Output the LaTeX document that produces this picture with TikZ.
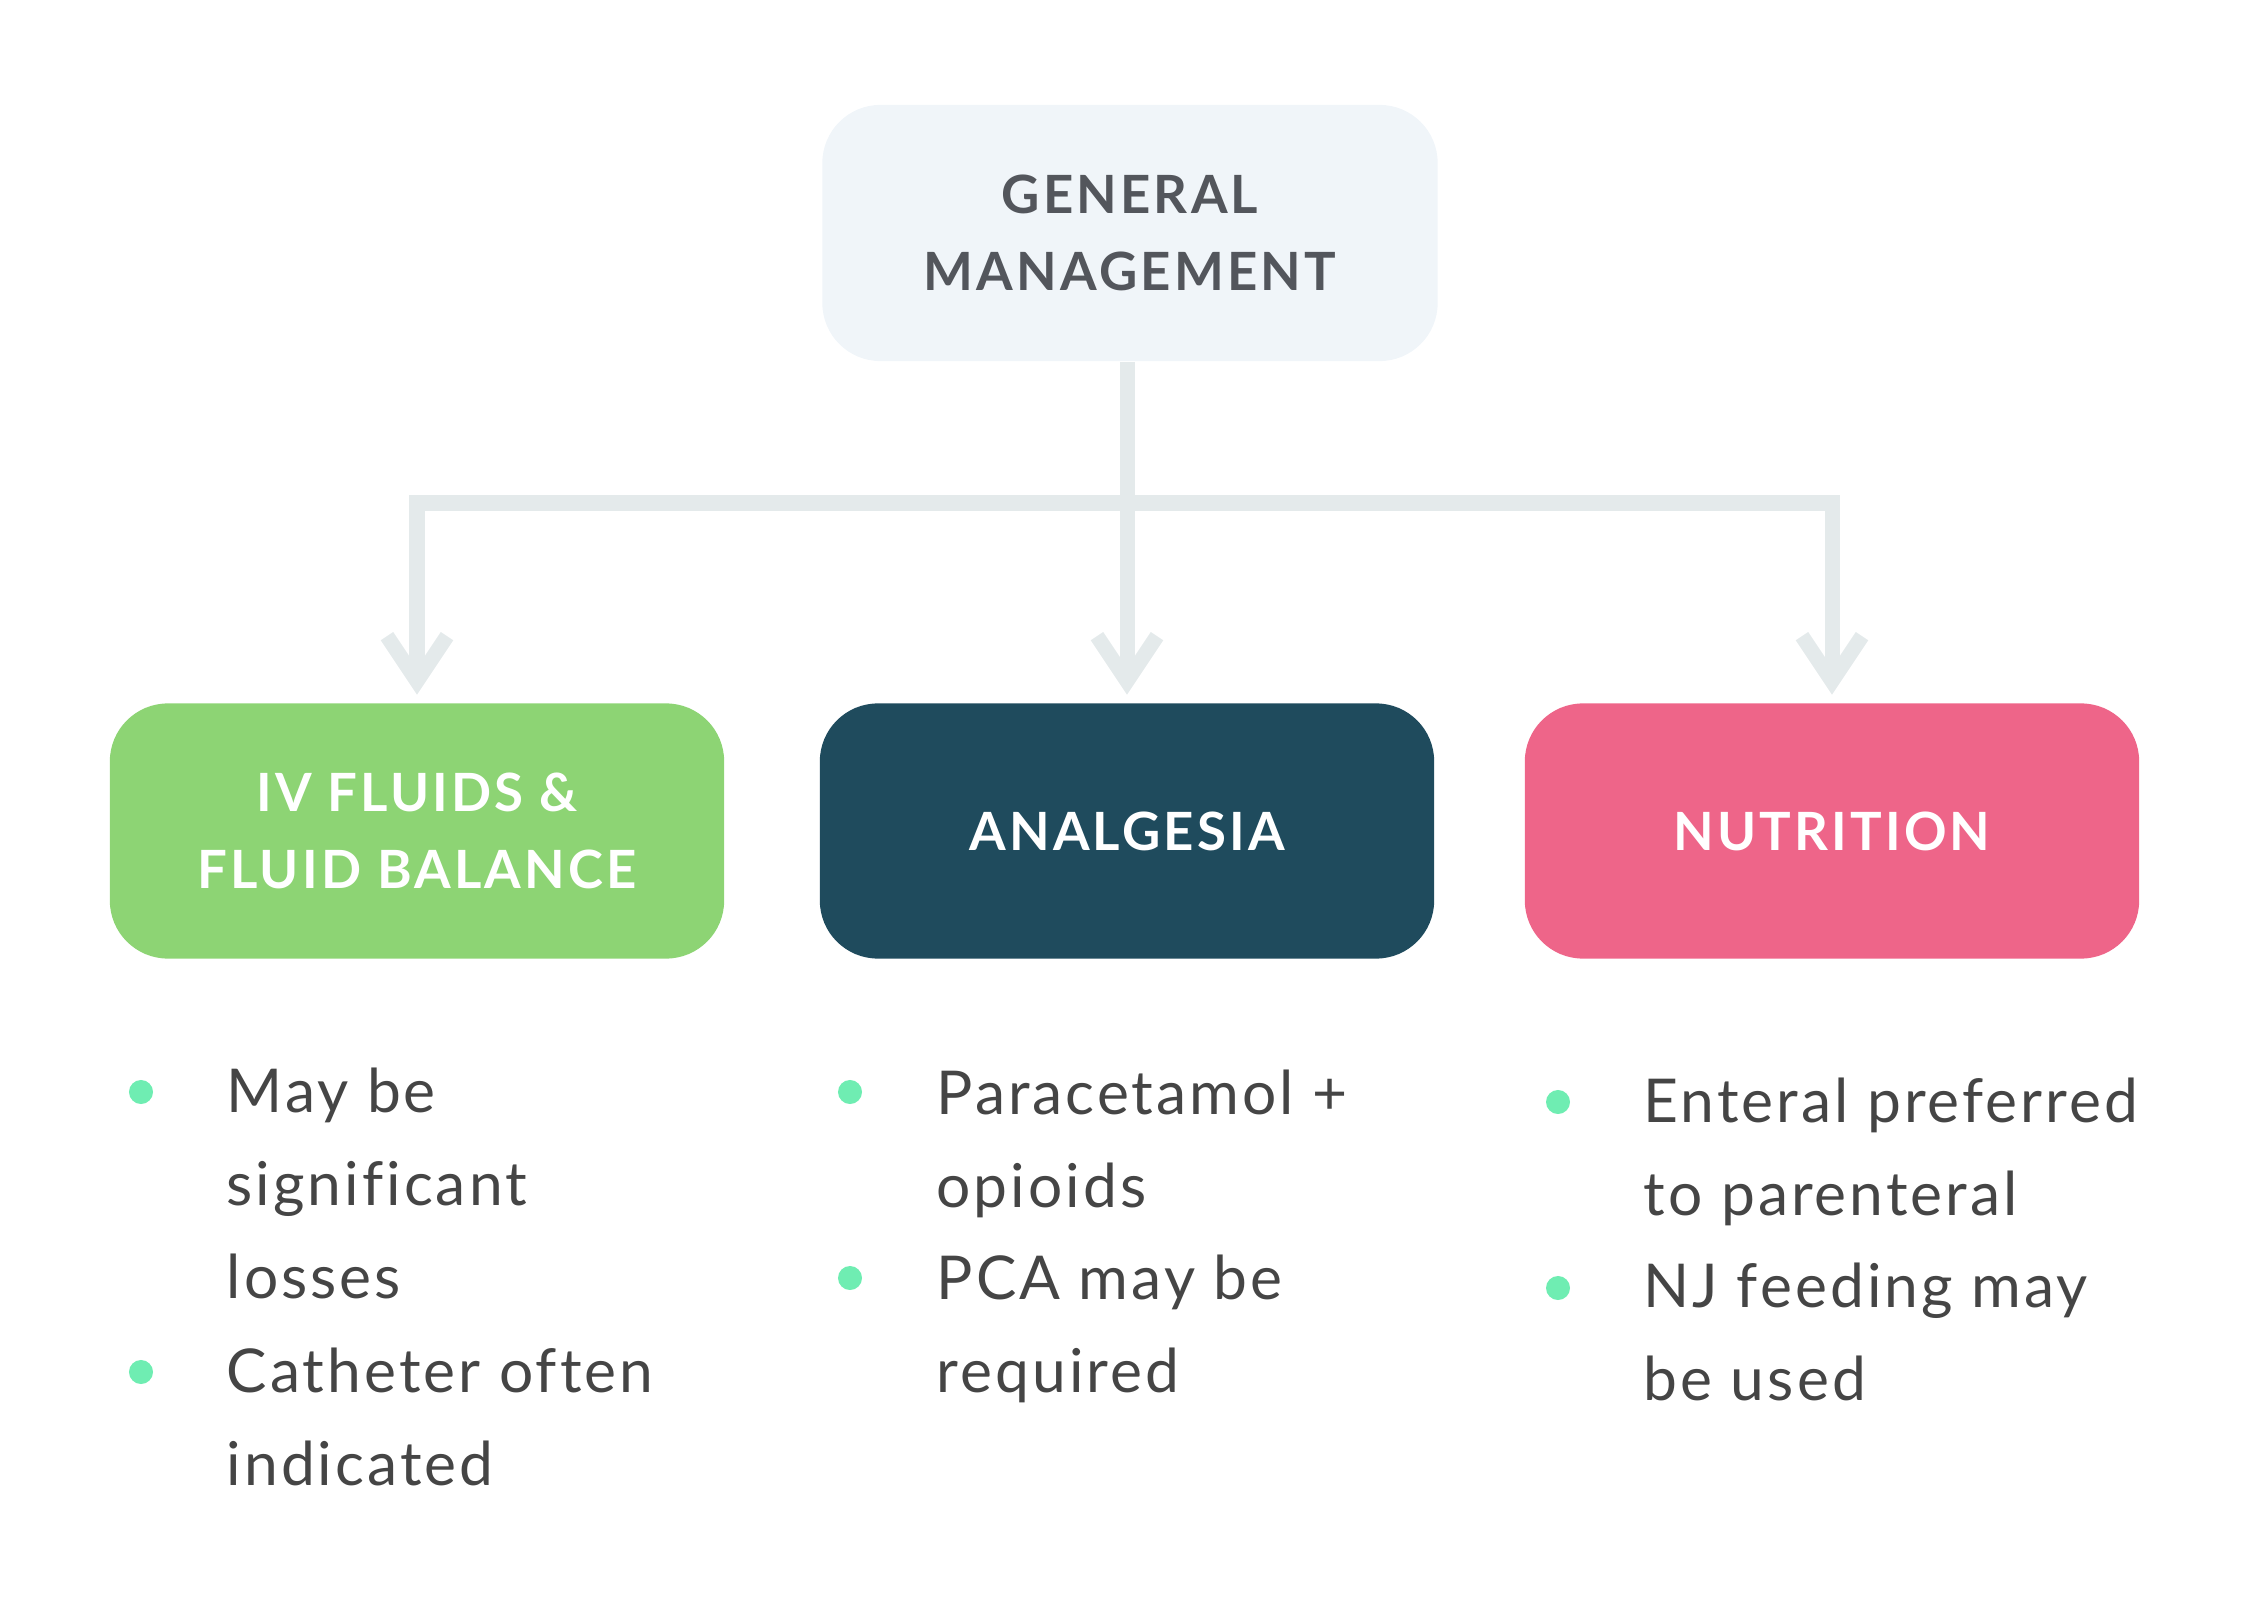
\documentclass[tikz,border=0pt]{standalone}
\usepackage{fontspec}
\setmainfont{Lato}
\newfontfamily\headfont[LetterSpace=6]{Lato}
\newfontfamily\listfont[LetterSpace=5,Ligatures=NoCommon]{Lato}
\usetikzlibrary{arrows.meta,positioning}
\definecolor{topfill}{HTML}{F0F5F9}
\definecolor{headgray}{HTML}{53565C}
\definecolor{linegray}{HTML}{E4EAEB}
\definecolor{fluidgreen}{HTML}{8DD474}
\definecolor{analdark}{HTML}{1F4B5D}
\definecolor{nutripink}{HTML}{EE6589}
\definecolor{dotgreen}{HTML}{6FEDB2}
\definecolor{bodygray}{HTML}{454545}
\tikzset{
    conn/.style={draw=linegray, line width=0.15cm},
    tip/.style={-{Straight Barb[length=0.45cm,width=0.6cm]}, shorten >=0.08cm},
    topbox/.style={rectangle, rounded corners=0.58cm, fill=topfill, minimum width=6.15cm, minimum height=2.56cm, align=center, text depth=-0.1cm, text=headgray, font=\headfont\bfseries\fontsize{15}{22}\selectfont},
    catbox/.style={rectangle, rounded corners=0.58cm, minimum width=6.14cm, minimum height=2.55cm, align=center, text depth=-0.1cm, text=white, font=\headfont\bfseries\fontsize{15}{22}\selectfont},
    dot/.style={circle, fill=dotgreen, inner sep=0pt, minimum size=0.24cm},
    item/.style={anchor=base west, align=left, inner sep=0pt, text=bodygray, font=\listfont\fontsize{17.2}{26.4}\selectfont}
}
\begin{document}
\begin{tikzpicture}[x=0.01cm,y=-0.01cm]
    \useasboundingbox (0,0) rectangle (2262,1600);
    \node[topbox] (gm) at (1130,233) {GENERAL\\MANAGEMENT};
    \node[catbox, fill=fluidgreen] (fluid) at (417,831) {IV FLUIDS \&\\FLUID BALANCE};
    \node[catbox, fill=analdark] (anal) at (1127,831) {ANALGESIA};
    \node[catbox, fill=nutripink] (nutri) at (1832,831) {NUTRITION};
    \coordinate (bar) at (1127,503);

    % connectors
    \draw[conn] (gm.south -| bar) -- (bar);
    \draw[conn, tip] (bar) -| (fluid.north);
    \draw[conn, tip] (bar) -| (nutri.north);
    \draw[conn, tip] (bar) -- (anal.north);

    % bullet lists (placed by the baseline of their last line)
    \node[dot] (d1) at (141,1092) {};
    \node[item] (i1) at (226,1298) {May be\\significant\\losses};
    \node[dot] (d2) at (141,1372) {};
    \node[item] (i2) at (226,1485) {Catheter often\\indicated};

    \node[dot] (d3) at (850,1092) {};
    \node[item] (i3) at (936,1207) {Paracetamol +\\opioids};
    \node[dot] (d4) at (850,1278) {};
    \node[item] (i4) at (936,1392) {PCA may be\\required};

    \node[dot] (d5) at (1558,1102) {};
    \node[item] (i5) at (1643,1215) {Enteral preferred\\to parenteral};
    \node[dot] (d6) at (1558,1288) {};
    \node[item] (i6) at (1643,1400) {NJ feeding may\\be used};
\end{tikzpicture}
\end{document}
